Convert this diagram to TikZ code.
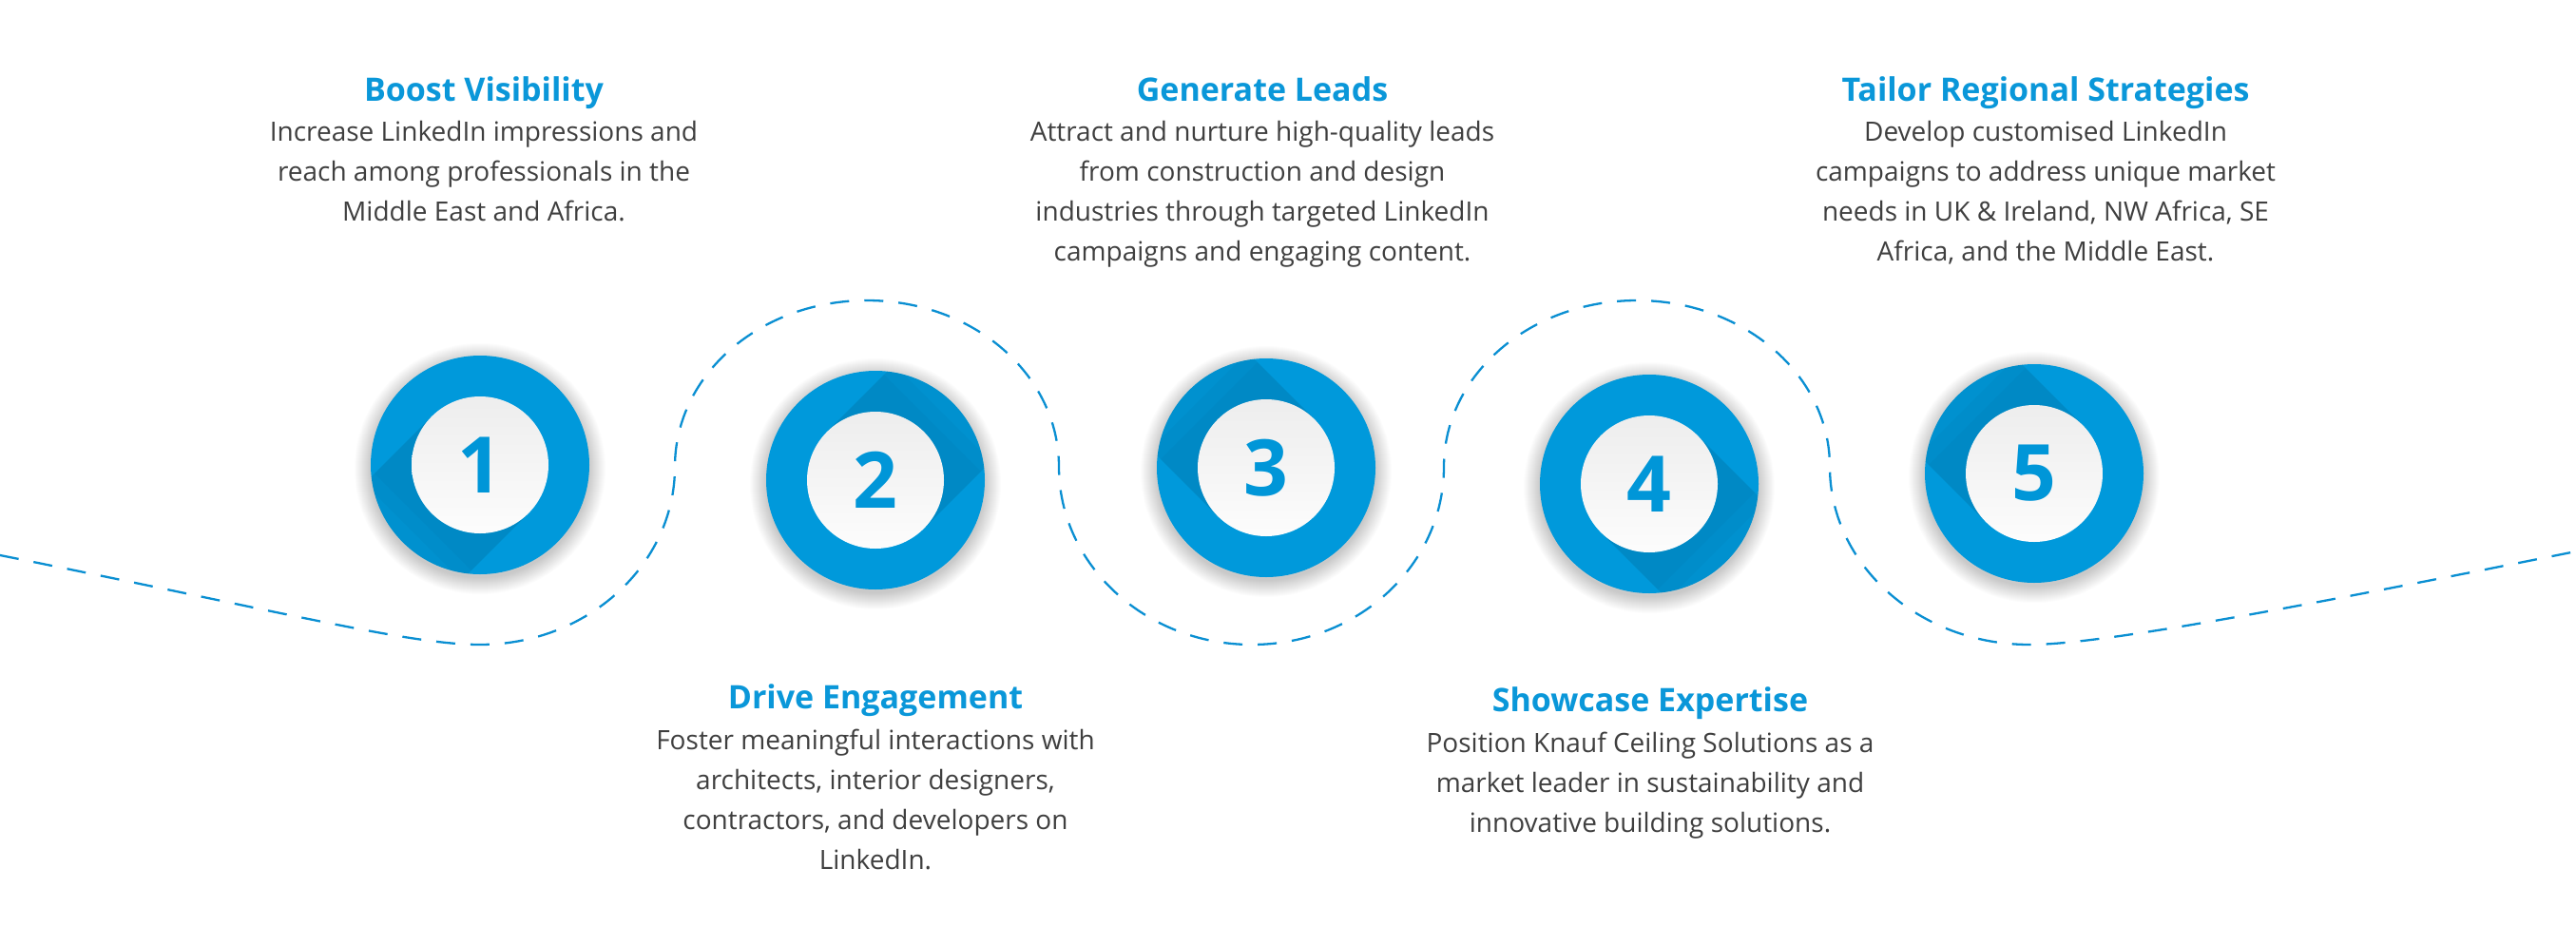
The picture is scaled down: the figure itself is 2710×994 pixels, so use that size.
\documentclass[tikz,border=0pt]{standalone}
\usepackage{fontspec}
\setmainfont{Open Sans}
\definecolor{cblue}{HTML}{0099DB}
\definecolor{ttlblue}{HTML}{0A97D9}
\definecolor{numblue}{HTML}{0096D8}
\definecolor{bodygray}{HTML}{3F3F3F}
\definecolor{waveblue}{HTML}{0A8FD2}
\begin{document}
\begin{tikzpicture}[x=1pt,y=-1pt,
  ttl/.style={font=\fontsize{34}{40}\bfseries\selectfont, text=ttlblue, inner sep=0, anchor=base},
  bdy/.style={font=\fontsize{28}{42}\selectfont, text=bodygray, align=center, inner sep=0, anchor=north},
  num/.style={font=\fontsize{82}{82}\bfseries\selectfont, text=numblue, inner sep=0},
  ring/.style={circle, fill=cblue, minimum size=230pt, inner sep=0},
  disc/.style={circle, minimum size=144pt, inner sep=0, top color=black!7, bottom color=black!1},
  wave/.style={draw=waveblue, line width=2.3pt, dash pattern=on 20pt off 16pt}]
\useasboundingbox (0,0) rectangle (2710,994);
\fill[white] (0,0) rectangle (2710,994);

% dashed wave
\draw[wave] (0,584) .. controls (300,644) and (430,678) .. (505,678)
  .. controls (618,678) and (710,594) .. (710,491)
  .. controls (710,394) and (800,316) .. (912,316)
  .. controls (1024,316) and (1114,394) .. (1114,491)
  .. controls (1114,594) and (1205,678) .. (1317,678)
  .. controls (1429,678) and (1519,594) .. (1519,491)
  .. controls (1519,394) and (1610,316) .. (1722,316)
  .. controls (1834,316) and (1925,394) .. (1925,491)
  .. controls (1925,594) and (2019,678) .. (2135,678)
  .. controls (2210,678) and (2410,640) .. (2710,580);

% circles
\foreach \i/\cx/\cy/\a in {1/505/489/225, 2/921/505/45, 3/1332/492/135, 4/1735/509/-45, 5/2140/498/135}{
  \foreach \k in {0,...,17}
    \fill[black, opacity=0.011] (\cx,\cy+4) circle[radius=115pt+\k pt];
  \node[ring] (c\i) at (\cx,\cy) {};
  \begin{scope}
    \clip (c\i.center) circle[radius=115pt];
    \begin{scope}[shift={(c\i.center)}, rotate=\a]
      \foreach \L in {85,100,115,130}
        \fill[black, opacity=0.022] (0,-72) rectangle (\L,72);
    \end{scope}
  \end{scope}
  \node[disc] (w\i) at (c\i) {};
  \node[num] (n\i) at (c\i) {\i};
}

% texts
\node[ttl] (t1) at (509,106) {Boost Visibility};
\node[bdy] (b1) at (509,148-29.4) {\strut Increase LinkedIn impressions and\\reach among professionals in the\\Middle East and Africa.};

\node[ttl] (t3) at (1328,106) {Generate Leads};
\node[bdy] (b3) at (1328,148-29.4) {\strut Attract and nurture high-quality leads\\from construction and design\\industries through targeted LinkedIn\\campaigns and engaging content.};

\node[ttl] (t5) at (2152,106) {Tailor Regional Strategies};
\node[bdy] (b5) at (2152,148-29.4) {\strut Develop customised LinkedIn\\campaigns to address unique market\\needs in UK \& Ireland, NW Africa, SE\\Africa, and the Middle East.};

\node[ttl] (t2) at (921,745) {Drive Engagement};
\node[bdy] (b2) at (921,788-29.4) {\strut Foster meaningful interactions with\\architects, interior designers,\\contractors, and developers on\\LinkedIn.};

\node[ttl] (t4) at (1736,748) {Showcase Expertise};
\node[bdy] (b4) at (1736,791-29.4) {\strut Position Knauf Ceiling Solutions as a\\market leader in sustainability and\\innovative building solutions.};
\end{tikzpicture}
\end{document}
